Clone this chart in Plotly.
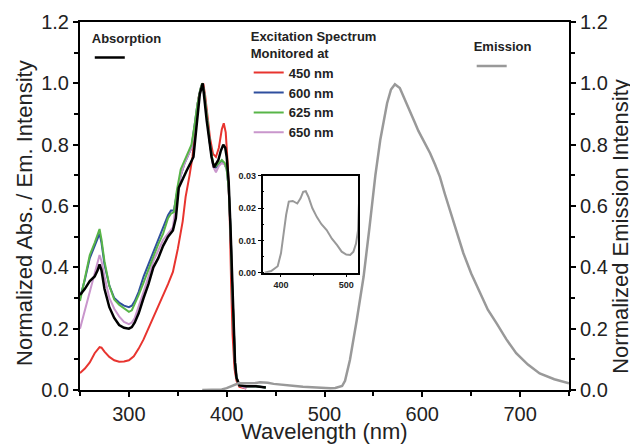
import plotly.graph_objects as go

# ---------------- data ----------------
# Absorption (black)
abs_wl = [250, 255, 260, 265, 268, 270, 272, 275, 280, 285, 290, 295, 300, 303, 306, 310, 315, 320,
          325, 330, 335, 340, 345, 348, 351, 355, 359, 363, 366, 369, 372.5, 375.5, 379.5, 384.5, 387,
          391.5, 394, 396.5, 398.5, 400, 402, 404, 405.5, 407, 408.5, 410, 413, 420, 430, 440]
abs_val = [0.31, 0.33, 0.355, 0.37, 0.39, 0.41, 0.39, 0.33, 0.27, 0.235, 0.212, 0.203, 0.200, 0.205,
           0.22, 0.25, 0.30, 0.345, 0.40, 0.43, 0.47, 0.50, 0.52, 0.56, 0.66, 0.69, 0.715, 0.74, 0.76,
           0.855, 0.965, 1.0, 0.88, 0.76, 0.726, 0.75, 0.78, 0.80, 0.79, 0.76, 0.68, 0.52, 0.35, 0.2,
           0.09, 0.04, 0.015, 0.012, 0.012, 0.008]

# Excitation spectra monitored at 450 / 600 / 625 / 650 nm
ex450_wl = [250, 255, 260, 265, 270, 272, 275, 280, 285, 290, 295, 300, 305, 310, 315, 320, 325, 330,
            335, 340, 345, 350, 355, 358, 362, 365, 368, 371, 374, 376, 378, 380, 383, 386, 389, 392,
            395, 397, 399, 401, 403, 404.5, 406, 408, 410, 413, 420]
ex450_val = [0.055, 0.07, 0.09, 0.12, 0.14, 0.138, 0.125, 0.108, 0.097, 0.092, 0.093, 0.097, 0.11,
             0.135, 0.165, 0.20, 0.24, 0.275, 0.305, 0.345, 0.385, 0.46, 0.55, 0.63, 0.70, 0.76, 0.86,
             0.95, 0.99, 1.0, 0.96, 0.90, 0.82, 0.77, 0.76, 0.79, 0.85, 0.87, 0.84, 0.74, 0.58, 0.35,
             0.18, 0.07, 0.03, 0.01, 0.005]

ex600_wl = [250, 255, 260, 265, 270, 272, 275, 280, 285, 290, 295, 300, 303, 306, 310, 315, 320, 325,
            330, 335, 340, 343, 346, 349, 353, 357, 360, 364, 367, 370, 373, 375, 377, 380, 383, 386,
            389, 392, 395, 398, 400, 402, 404, 405.5, 407, 408.5, 410, 413, 420, 430, 440]
ex600_val = [0.30, 0.36, 0.43, 0.47, 0.51, 0.48, 0.41, 0.34, 0.30, 0.285, 0.275, 0.27, 0.275, 0.29,
             0.32, 0.37, 0.41, 0.45, 0.49, 0.53, 0.57, 0.585, 0.585, 0.64, 0.70, 0.74, 0.76, 0.79, 0.86,
             0.93, 0.98, 1.0, 0.97, 0.88, 0.80, 0.735, 0.725, 0.735, 0.745, 0.735, 0.72, 0.66, 0.52,
             0.35, 0.2, 0.09, 0.04, 0.015, 0.012, 0.012, 0.008]

ex625_wl = [250, 255, 260, 265, 268, 270, 272, 275, 280, 285, 290, 295, 300, 303, 306, 310, 315, 320,
            325, 330, 335, 340, 343, 346, 349, 353, 357, 360, 364, 367, 370, 373, 375, 377, 380, 383,
            386, 389, 392, 395, 398, 400, 402, 404, 405.5, 407, 408.5, 410, 413, 420, 430, 440]
ex625_val = [0.29, 0.37, 0.44, 0.48, 0.505, 0.525, 0.49, 0.42, 0.34, 0.295, 0.278, 0.265, 0.255, 0.26,
             0.28, 0.31, 0.35, 0.395, 0.435, 0.475, 0.51, 0.56, 0.575, 0.58, 0.65, 0.72, 0.75, 0.77,
             0.80, 0.86, 0.93, 0.98, 1.0, 0.97, 0.88, 0.80, 0.74, 0.73, 0.74, 0.75, 0.74, 0.72, 0.66,
             0.52, 0.35, 0.2, 0.09, 0.04, 0.015, 0.012, 0.012, 0.008]

ex650_wl = [250, 255, 260, 265, 268, 270, 272, 275, 280, 285, 290, 295, 300, 303, 306, 310, 315, 320,
            325, 330, 335, 340, 345, 349, 353, 357, 360, 364, 367, 370, 373, 375, 377, 380, 383, 386,
            389, 392, 395, 398, 400, 402, 404, 405.5, 407, 408.5, 410, 413, 420]
ex650_val = [0.20, 0.26, 0.32, 0.38, 0.42, 0.44, 0.42, 0.37, 0.30, 0.265, 0.24, 0.222, 0.215, 0.22,
             0.235, 0.27, 0.32, 0.37, 0.42, 0.455, 0.49, 0.51, 0.53, 0.63, 0.70, 0.74, 0.76, 0.79, 0.85,
             0.93, 0.98, 1.0, 0.97, 0.88, 0.80, 0.73, 0.71, 0.73, 0.74, 0.735, 0.72, 0.66, 0.52, 0.35,
             0.2, 0.09, 0.04, 0.015, 0.005]

# Emission (grey)
em_wl = [375, 385, 395, 400, 404, 408, 412, 418, 425, 430, 434, 438, 442, 448, 455, 462, 470, 478,
         486, 493, 500, 506, 511, 515, 518, 521, 526, 533, 540, 546, 552, 557, 564, 568, 572, 577,
         582, 587, 592, 596, 602, 608, 613, 618, 623, 628, 635, 642, 650, 659, 667, 676, 686, 696,
         708, 720, 735, 750]
em_val = [0.0, 0.0005, 0.002, 0.006, 0.012, 0.018, 0.022, 0.0222, 0.0214, 0.023, 0.025, 0.0252,
          0.0235, 0.020, 0.0172, 0.015, 0.0132, 0.0105, 0.0085, 0.0065, 0.0056, 0.0055, 0.0065,
          0.009, 0.013, 0.03, 0.098, 0.228, 0.37, 0.53, 0.70, 0.815, 0.935, 0.98, 0.997, 0.985,
          0.95, 0.913, 0.875, 0.845, 0.81, 0.772, 0.735, 0.695, 0.64, 0.587, 0.515, 0.446, 0.38,
          0.315, 0.262, 0.217, 0.165, 0.12, 0.083, 0.054, 0.035, 0.022]

# ---------------- figure ----------------
FONT = "Liberation Sans, Arial, sans-serif"
fig = go.Figure()

exc = [("450 nm", ex450_wl, ex450_val, "#e8342f", 1),
       ("600 nm", ex600_wl, ex600_val, "#2f4f9e", 2),
       ("650 nm", ex650_wl, ex650_val, "#c996cc", 4),
       ("625 nm", ex625_wl, ex625_val, "#58b548", 3)]
for name, xs, ys, col, rank in exc:
    fig.add_trace(go.Scatter(x=xs, y=ys, mode="lines", name=name,
                             line=dict(color=col, width=2), legend="legend2", legendrank=rank))

fig.add_trace(go.Scatter(x=abs_wl, y=abs_val, mode="lines", name="",
                         line=dict(color="black", width=2.5), legend="legend"))

fig.add_trace(go.Scatter(x=em_wl, y=em_val, mode="lines", name="", yaxis="y3",
                         line=dict(color="#999999", width=2.5), legend="legend3"))

# inset
fig.add_trace(go.Scatter(x=em_wl, y=em_val, mode="lines", xaxis="x2", yaxis="y2",
                         line=dict(color="#999999", width=2), showlegend=False))

tickfont = dict(family=FONT, size=20, color="#222")
titlefont = dict(family=FONT, size=22, color="#222")
axis_common = dict(showline=True, linecolor="black", linewidth=2, ticks="outside",
                   ticklen=5, tickwidth=2, tickcolor="black", showgrid=False, zeroline=False,
                   tickfont=tickfont, automargin=False)
leg_font = dict(family=FONT, size=13, color="#222", weight="bold")

# the page body adds an 8px offset, so margins are 8px smaller on the top/left
fig.update_layout(
    width=638, height=444, autosize=False,
    margin=dict(l=72, r=77, t=14, b=62),
    paper_bgcolor="white", plot_bgcolor="white",
    font=dict(family=FONT, color="#222"),
    xaxis=dict(range=[250, 750], dtick=100, mirror=True,
               minor=dict(dtick=50, ticks="outside", ticklen=4, tickwidth=2, tickcolor="black"),
               **axis_common),
    yaxis=dict(range=[0, 1.2], dtick=0.2, tickformat=".1f",
               minor=dict(dtick=0.1, ticks="outside", ticklen=4, tickwidth=2, tickcolor="black"),
               **axis_common),
    yaxis3=dict(range=[0, 1.2], dtick=0.2, tickformat=".1f", overlaying="y", side="right",
                anchor="x",
                minor=dict(dtick=0.1, ticks="outside", ticklen=4, tickwidth=2, tickcolor="black"),
                **axis_common),
    xaxis2=dict(domain=[0.3736, 0.5685], anchor="y2", range=[372, 518], dtick=100,
                showline=True, mirror=True, linecolor="black", linewidth=1.5,
                ticks="outside", ticklen=3, tickwidth=1, tickcolor="black",
                minor=dict(dtick=50, ticks="outside", ticklen=2, tickcolor="black"),
                showgrid=False, zeroline=False, automargin=False,
                tickfont=dict(family=FONT, size=9, color="#222", weight="bold")),
    yaxis2=dict(domain=[0.3188, 0.5823], anchor="x2", range=[0, 0.03], dtick=0.01,
                tickformat=".2f",
                showline=True, mirror=True, linecolor="black", linewidth=1.5,
                ticks="outside", ticklen=3, tickwidth=1, tickcolor="black",
                minor=dict(dtick=0.005, ticks="inside", ticklen=2, tickcolor="black"),
                showgrid=False, zeroline=False, automargin=False,
                tickfont=dict(family=FONT, size=9, color="#222", weight="bold")),
    legend=dict(x=0.020, y=0.99, xanchor="left", yanchor="top", bgcolor="rgba(0,0,0,0)",
                title=dict(text="Absorption", side="top", font=leg_font), font=leg_font),
    legend2=dict(x=0.345, y=0.995, xanchor="left", yanchor="top", bgcolor="rgba(0,0,0,0)",
                 title=dict(text="Excitation Spectrum<br>Monitored at", side="top", font=leg_font),
                 font=leg_font),
    legend3=dict(x=0.801, y=0.967, xanchor="left", yanchor="top", bgcolor="rgba(0,0,0,0)",
                 title=dict(text="Emission", side="top", font=leg_font), font=leg_font),
    annotations=[
        dict(text="Wavelength (nm)", xref="paper", yref="paper",
             x=0.501, y=-0.114, xanchor="center", yanchor="middle",
             showarrow=False, font=titlefont),
        dict(text="Normalized Abs. / Em. Intensity", xref="paper", yref="paper",
             x=-0.1125, y=0.481, xanchor="center", yanchor="middle", textangle=-90,
             showarrow=False, font=titlefont),
        dict(text="Normalized Emission Intensity", xref="paper", yref="paper",
             x=1.106, y=0.4457, xanchor="center", yanchor="middle", textangle=-90,
             showarrow=False, font=titlefont),
    ],
)

fig.write_html("out.html")
